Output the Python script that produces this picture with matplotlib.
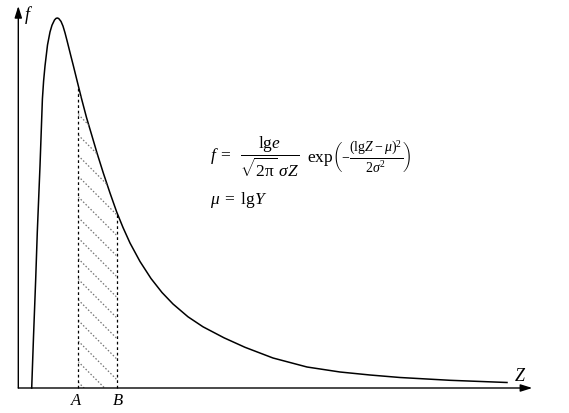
import matplotlib
matplotlib.use("Agg")
import matplotlib.pyplot as plt
import numpy as np
from matplotlib.patches import Polygon

plt.rcParams['mathtext.fontset'] = 'custom'
plt.rcParams['mathtext.rm'] = 'Liberation Serif'
plt.rcParams['mathtext.it'] = 'Liberation Serif:italic'
plt.rcParams['mathtext.bf'] = 'Liberation Serif:bold'
plt.rcParams['font.family'] = 'Liberation Serif'

# curve (Z, f), arbitrary units
z_vals = [0.134, 0.152, 0.174, 0.190, 0.217, 0.241, 0.253, 0.267, 0.292, 0.317,
          0.337, 0.362, 0.377, 0.390, 0.404, 0.427, 0.447, 0.467, 0.487, 0.507,
          0.527, 0.550, 0.592, 0.634, 0.682, 0.734, 0.787, 0.850, 0.917, 0.984,
          1.047, 1.117, 1.217, 1.327, 1.437, 1.547, 1.697, 1.847, 2.057, 2.267,
          2.547, 2.887, 3.217, 3.517, 3.817, 4.317, 4.887]
f_vals = [0.000, 0.510, 1.090, 1.560, 2.220, 2.890, 3.070, 3.220, 3.430, 3.560,
          3.628, 3.680, 3.696, 3.700, 3.695, 3.666, 3.619, 3.552, 3.475, 3.395,
          3.315, 3.225, 3.055, 2.887, 2.705, 2.530, 2.350, 2.150, 1.950, 1.760,
          1.605, 1.450, 1.265, 1.095, 0.955, 0.840, 0.712, 0.612, 0.502, 0.407,
          0.300, 0.210, 0.160, 0.130, 0.105, 0.077, 0.055]

z_a = 0.60   # A
z_b = 0.984  # B
z_max = 5.14
f_max = 3.82

z = np.array(z_vals)
f = np.array(f_vals)

fig = plt.figure(figsize=(5.69, 4.14), dpi=100)
ax = fig.add_axes([0, 0, 1, 1])
ax.set_xlim(-0.183, 5.507)
ax.set_ylim(-0.25, 3.89)
ax.axis('off')

# axes with arrows
arrow = dict(arrowstyle='-|>,head_length=0.7,head_width=0.22',
             color='k', lw=1.0, shrinkA=0, shrinkB=0)
ax.annotate('', xy=(z_max, 0), xytext=(0, 0), arrowprops=arrow)
ax.annotate('', xy=(0, f_max), xytext=(0, 0), arrowprops=arrow)

# the density curve
ax.plot(z, f, color='k', lw=1.1, solid_joinstyle='round')

# hatched region between A and B
fa = np.interp(z_a, z, f)
fb = np.interp(z_b, z, f)
inside = (z > z_a) & (z < z_b)
poly_pts = [(z_a, 0), (z_a, fa)] + list(zip(z[inside], f[inside])) + [(z_b, fb), (z_b, 0)]
clip = Polygon(poly_pts, closed=True, facecolor='none', edgecolor='none')
ax.add_patch(clip)
for k in range(-4, 22):
    c = z_a + 0.057 + 0.206 * k
    xs = np.array([z_a - 0.1, z_b + 0.1])
    line, = ax.plot(xs, c - xs, color='0.45', lw=0.9, linestyle=(0, (1.2, 1.6)))
    line.set_clip_path(clip)

ax.plot([z_a, z_a], [0, fa], color='k', lw=0.9, linestyle=(0, (2.2, 2.2)))
ax.plot([z_b, z_b], [0, fb], color='k', lw=0.9, linestyle=(0, (2.2, 2.2)))

# labels
ax.text(0.107, 3.74, r'$f$', fontsize=13, ha='center', va='center')
ax.text(5.02, 0.12, r'$Z$', fontsize=13, ha='center', va='center')
ax.text(z_a - 0.013, -0.12, r'$A$', fontsize=12, ha='center', va='center')
ax.text(z_b + 0.013, -0.12, r'$B$', fontsize=12, ha='center', va='center')

# formula, built from three pieces
ax.text(1.92, 2.32, r'$f\;=\;\;\dfrac{\mathrm{lg}e}{\sqrt{2\mathrm{\pi}}\;\sigma Z}$',
        fontsize=12.5, ha='left', va='center')
ax.text(2.89, 2.27, r'$\mathrm{exp}$', fontsize=12.5, ha='left', va='baseline')
ax.text(3.14, 2.32, r'$\left(-\dfrac{(\mathrm{lg}Z-\mu)^2}{2\sigma^2}\right)$',
        fontsize=10, ha='left', va='center')
ax.text(1.92, 1.89, r'$\mu\;=\;\mathrm{lg}Y$', fontsize=12.5, ha='left', va='center')

fig.savefig('out.png', dpi=100)
